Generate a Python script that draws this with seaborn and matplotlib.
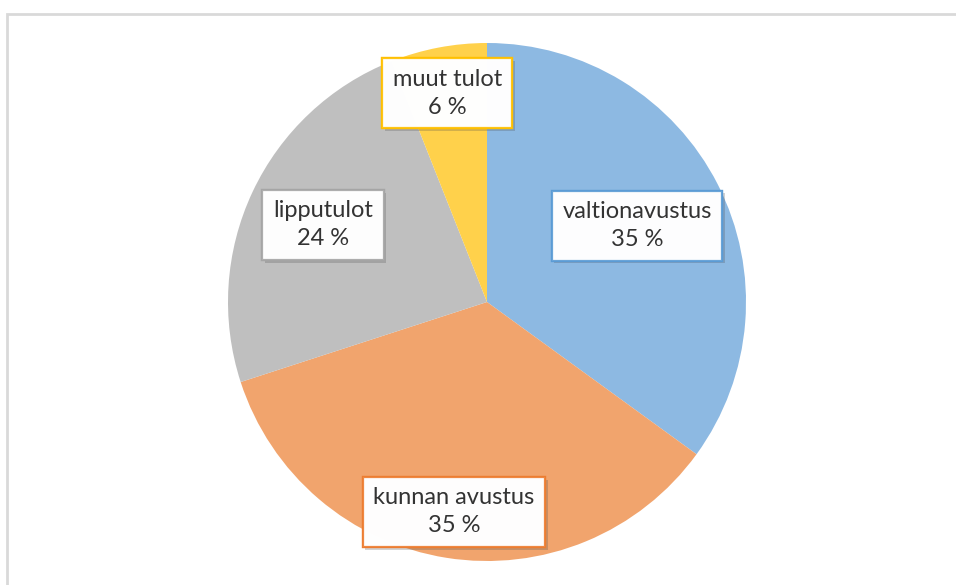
import numpy as np
import matplotlib
matplotlib.use("Agg")
import matplotlib.pyplot as plt
import matplotlib.patheffects as pe
from matplotlib.patches import Rectangle
import seaborn as sns

labels = ["valtionavustus", "kunnan avustus", "lipputulot", "muut tulot"]
values = [35, 35, 24, 6]
colors = ["#8DB9E2", "#F1A46D", "#BFBFBF", "#FFD14B"]
edge_colors = ["#5B9BD5", "#ED7D31", "#A5A5A5", "#FFC000"]
label_dist = [0.65, 0.82, 0.70, 0.82]

sns.set_theme(style="white")
plt.rcParams["font.family"] = ["Lato", "DejaVu Sans"]

W, H = 956, 585
fig = plt.figure(figsize=(W / 100, H / 100), dpi=100)
fig.patch.set_facecolor("white")

# chart border
fig.add_artist(Rectangle((7 / W, -0.05), 1.2, (H - 14) / H + 0.05, transform=fig.transFigure,
                         fill=False, edgecolor="#D9D9D9", linewidth=2))

cx, cy, r = 487, 302, 259
ax = fig.add_axes([(cx - r) / W, (H - cy - r) / H, 2 * r / W, 2 * r / H])
wedges, _ = ax.pie(values, colors=sns.color_palette(colors), startangle=90, counterclock=False,
                   radius=1.0, wedgeprops=dict(linewidth=0))
ax.set_xlim(-1, 1)
ax.set_ylim(-1, 1)
ax.set_aspect("equal")
ax.axis("off")

total = sum(values)
cum = np.cumsum([0] + values)
for i, (lab, v) in enumerate(zip(labels, values)):
    mid = (cum[i] + cum[i + 1]) / 2 / total
    ang = np.deg2rad(90 - 360 * mid)
    x = label_dist[i] * np.cos(ang)
    y = label_dist[i] * np.sin(ang)
    t = ax.text(x, y, f"{lab}\n{v} %", ha="center", va="center", fontsize=17,
                color="#333333", linespacing=1.4,
                bbox=dict(boxstyle="square,pad=0.45", facecolor="white", alpha=0.9,
                          edgecolor=edge_colors[i], linewidth=1.6))
    t.get_bbox_patch().set_path_effects([pe.withSimplePatchShadow(offset=(2, -2), alpha=0.25),
                                         pe.Normal()])

fig.savefig("out.png", dpi=100)
